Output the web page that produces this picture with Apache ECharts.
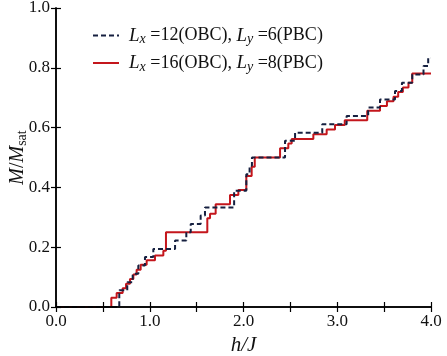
<!DOCTYPE html>
<html><head><meta charset="utf-8">
<script src="https://cdn.jsdelivr.net/npm/echarts@6/dist/echarts.min.js"></script>
<style>html,body{margin:0;padding:0;background:#fff}#c{width:447px;height:356px}</style>
</head><body><div id="c"></div>
<script>
// Lx=16 (OBC), Ly=8 (PBC): jump position and value after jump (step function)
const redX = [0, 0.59, 0.647, 0.711, 0.747, 0.789, 0.825, 0.86, 0.903, 0.967, 1.056, 1.145, 1.173, 1.614, 1.643, 1.703, 1.856, 1.945, 2.03, 2.087, 2.12, 2.39, 2.478, 2.514, 2.745, 2.887, 2.976, 3.08, 3.32, 3.456, 3.53, 3.6, 3.65, 3.7, 3.76, 3.8, 4.0];
const redY = [0, 0.031, 0.047, 0.063, 0.078, 0.094, 0.109, 0.125, 0.141, 0.156, 0.172, 0.188, 0.25, 0.297, 0.312, 0.344, 0.375, 0.391, 0.438, 0.469, 0.5, 0.531, 0.547, 0.562, 0.578, 0.594, 0.609, 0.625, 0.656, 0.672, 0.688, 0.703, 0.719, 0.734, 0.75, 0.781, 0.781];
// Lx=12 (OBC), Ly=6 (PBC)
const navyX = [0, 0.675, 0.76, 0.818, 0.878, 0.949, 1.038, 1.27, 1.39, 1.437, 1.543, 1.589, 1.9, 2.03, 2.065, 2.09, 2.443, 2.55, 2.84, 3.1, 3.33, 3.456, 3.616, 3.69, 3.8, 3.92, 3.97, 4.0];
const navyY = [0, 0.056, 0.083, 0.111, 0.139, 0.167, 0.194, 0.222, 0.25, 0.278, 0.306, 0.333, 0.389, 0.444, 0.472, 0.5, 0.556, 0.583, 0.611, 0.639, 0.667, 0.694, 0.722, 0.75, 0.778, 0.806, 0.833, 0.833];
const xTicks = [0, 1, 2, 3, 4];
const yTicks = [0, 0.2, 0.4, 0.6, 0.8, 1.0];
const name12 = 'Lx=12(OBC), Ly=6(PBC)';
const name16 = 'Lx=16(OBC), Ly=8(PBC)';

const FONT = '"Liberation Serif","DejaVu Serif",serif';
const chart = echarts.init(document.getElementById('c'), null, {renderer: 'canvas'});
const zip = (xs, ys) => xs.map((x, i) => [x, ys[i]]);
const axisCommon = {
  axisLine: {lineStyle: {color: '#000', width: 1.5}},
  axisTick: {inside: true, length: 5, lineStyle: {color: '#000', width: 1.2}},
  splitLine: {show: false},
  nameMoveOverlap: false,
  z: 3
};
const legendRich = {
  i: {fontFamily: FONT, fontStyle: 'italic', fontSize: 19, color: '#111', padding: [0, 0, 0, 5]},
  s: {fontFamily: FONT, fontStyle: 'italic', fontSize: 14, color: '#111', verticalAlign: 'bottom', padding: [8, 0, 0, 0]},
  i2: {fontFamily: FONT, fontStyle: 'italic', fontSize: 19, color: '#111'},
  n: {fontFamily: FONT, fontSize: 18, color: '#111'}
};
function legendFmt(name) {
  const m = name.match(/Lx=(\d+)\(OBC\), Ly=(\d+)\(PBC\)/);
  return '{i|L}{s|x}{n| =' + m[1] + '(OBC), }{i2|L}{s|y}{n| =' + m[2] + '(PBC)}';
}
chart.setOption({
  animation: false,
  backgroundColor: '#fff',
  grid: {left: 56, right: 16, top: 8, bottom: 49, containLabel: false, outerBoundsMode: 'none'},
  legend: {
    orient: 'vertical', left: 87, top: 21, itemWidth: 26, itemHeight: 14, itemGap: 7,
    data: [name12, name16],
    itemStyle: {opacity: 0},
    formatter: legendFmt,
    textStyle: {rich: legendRich, fontFamily: FONT, fontSize: 18}
  },
  xAxis: [
    Object.assign({}, axisCommon, {
      type: 'value', min: 0, max: 4, interval: 0.5, position: 'bottom',
      name: 'h/J', nameLocation: 'middle', nameGap: 28,
      nameTextStyle: {fontFamily: FONT, fontStyle: 'italic', fontSize: 21, color: '#111'},
      axisLabel: {fontFamily: FONT, fontSize: 17, color: '#111', margin: 6,
        formatter: v => xTicks.indexOf(v) >= 0 ? v.toFixed(1) : ''}
    }),
    Object.assign({}, axisCommon, {
      type: 'value', min: 0, max: 4, interval: 0.5, position: 'top', axisLabel: {show: false}
    })
  ],
  yAxis: [
    Object.assign({}, axisCommon, {
      type: 'value', min: 0, max: 1, interval: 0.2, position: 'left',
      name: '{m|M}{n|/}{m|M}{s|sat}', nameLocation: 'middle', nameGap: 27, nameRotate: 90,
      nameTextStyle: {rich: {
        m: {fontFamily: FONT, fontStyle: 'italic', fontSize: 20, color: '#111'},
        n: {fontFamily: FONT, fontSize: 20, color: '#111'},
        s: {fontFamily: FONT, fontSize: 14, color: '#111', verticalAlign: 'bottom', padding: [8, 0, 0, 0]}
      }},
      axisLabel: {fontFamily: FONT, fontSize: 17, color: '#111', margin: 6,
        formatter: v => yTicks.some(t => Math.abs(t - v) < 1e-9) ? v.toFixed(1) : ''}
    }),
    Object.assign({}, axisCommon, {
      type: 'value', min: 0, max: 1, interval: 0.2, position: 'right', axisLabel: {show: false}
    })
  ],
  series: [
    {name: name12, type: 'line', step: 'end', symbol: 'none', data: zip(navyX, navyY),
      lineStyle: {color: '#162040', width: 2, type: [5, 3]}, itemStyle: {color: '#162040'}, z: 2},
    {name: name16, type: 'line', step: 'end', symbol: 'none', data: zip(redX, redY),
      lineStyle: {color: '#c4161c', width: 2}, itemStyle: {color: '#c4161c'}, z: 1}
  ]
});
</script></body></html>
